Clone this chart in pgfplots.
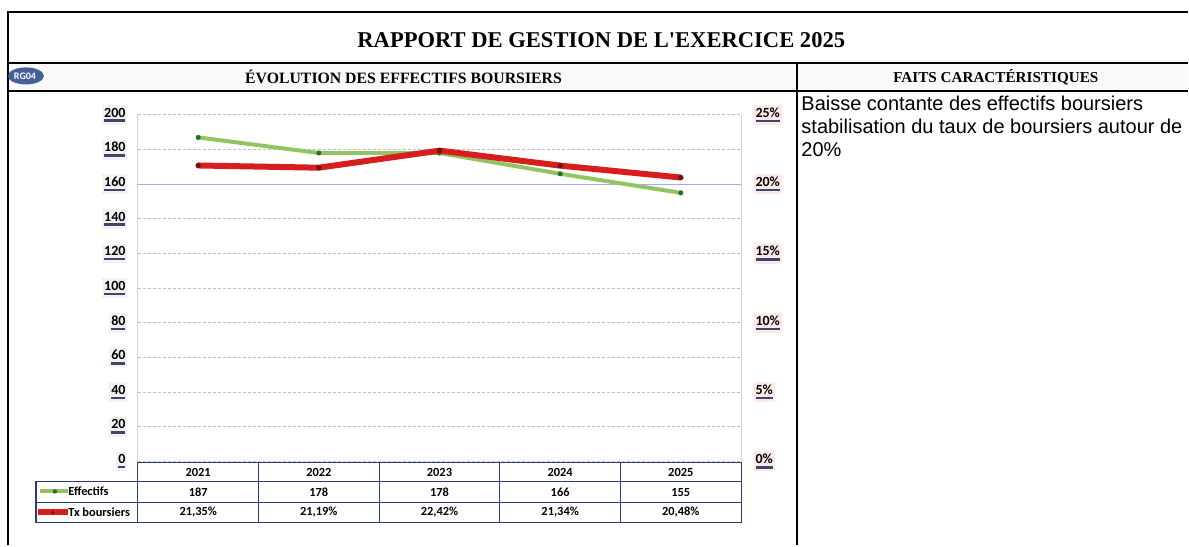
\documentclass[border=0pt]{standalone}
\usepackage{pgfplots}
\pgfplotsset{compat=1.18}
\usepackage{fontspec}
\setmainfont{Liberation Serif}
\newfontfamily\calfont{Carlito}
\newfontfamily\arialfont{Liberation Sans}
\definecolor{effgreen}{RGB}{146,196,96}
\definecolor{effdot}{RGB}{40,110,40}
\definecolor{txred}{RGB}{214,30,30}
\definecolor{txdot}{RGB}{110,20,20}
\definecolor{tabblue}{RGB}{40,60,120}
\definecolor{badge}{RGB}{70,95,150}
\definecolor{shade}{RGB}{60,70,110}
% tick label with a dark bar under it, as in the scanned Excel chart
\newcommand\tickbar[1]{\setbox0\hbox{#1}\copy0\llap{\textcolor{shade}{\rule[-2.4pt]{\wd0}{1.2pt}}}}
\pgfplotsset{
  commonax/.style={
    width=302pt, height=173.5pt, scale only axis,
    xmin=0.5, xmax=5.5, hide x axis,
    major tick length=0pt,
    axis line style={gray!35, line width=0.4pt},
    /pgf/number format/assume math mode=true,
  },
  bevel/.style={font=\calfont\bfseries\fontsize{7}{8}\selectfont, fill=#1,
    inner xsep=1pt, inner ysep=1.4pt},
}
\begin{document}
\begin{tikzpicture}
\begin{scope}[x=0.5pt,y=-0.5pt]
\path (0,0) rectangle (1189,546);
\fill[gray!5] (9,64) rectangle (1189,90);
\draw[line width=1.4pt] (8,546) -- (8,12) -- (1189,12);
\draw[line width=1.4pt] (8,63) -- (1189,63);
\draw[line width=0.8pt] (8,91) -- (1189,91);
\draw[line width=1.2pt] (798,63) -- (798,546);
\node[font=\bfseries\fontsize{11.3}{13}\selectfont] at (602,40) {RAPPORT DE GESTION DE L\textquotesingle EXERCICE 2025};
\fill[badge] (26,76) ellipse (18 and 8.5);
\node[white, font=\calfont\bfseries\fontsize{5}{6}\selectfont] at (25,76) {RG04};
\node[font=\bfseries\fontsize{7.9}{9}\selectfont] at (404,77) {ÉVOLUTION DES EFFECTIFS BOURSIERS};
\node[font=\bfseries\fontsize{7.6}{9}\selectfont] at (997,77) {FAITS CARACTÉRISTIQUES};
\node[anchor=north west, align=left, inner sep=0pt, font=\arialfont\fontsize{10}{11.5}\selectfont] at (802,96)
  {Baisse contante des effectifs boursiers\\stabilisation du taux de boursiers autour de\\20\%};
\coordinate (ax) at (138,462);
\end{scope}

\begin{axis}[commonax, at={(ax)}, anchor=south west,
  ymin=0, ymax=200, ytick={0,20,...,200},
  axis y line*=left,
  ymajorgrids, grid style={gray!50, line width=0.4pt, dash pattern=on 1.5pt off 1pt},
  yticklabel={\tickbar{\pgfmathprintnumber{\tick}}},
  yticklabel style={bevel=gray!10, xshift=-5pt},
]
\draw[blue!35, line width=0.5pt] (axis cs:0.5,160) -- (axis cs:5.5,160);
\addplot[effgreen, line width=2pt, mark=*, mark size=1.1pt, mark options={fill=effdot, draw=effdot, line width=0.3pt}]
  coordinates {(1,187)(2,178)(3,178)(4,166)(5,155)};
\end{axis}

\begin{axis}[commonax, at={(ax)}, anchor=south west,
  ymin=0, ymax=25, ytick={0,5,...,25},
  axis y line*=right,
  yticklabel={\tickbar{\pgfmathprintnumber{\tick}\%}},
  yticklabel style={bevel=pink!35, xshift=6pt},
]
\addplot[txred, line width=3pt, mark=*, mark size=1.2pt, mark options={fill=txdot, draw=txdot, line width=0.3pt}]
  coordinates {(1,21.35)(2,21.19)(3,22.42)(4,21.34)(5,20.48)};
\end{axis}

\begin{scope}[x=0.5pt,y=-0.5pt]
\fill[white] (138,463) rectangle (742,523);
\draw[tabblue, line width=0.6pt] (138,463) rectangle (742,523);
\draw[tabblue, line width=0.6pt] (36,482) rectangle (742,523);
\draw[tabblue, line width=0.6pt] (36,503) -- (742,503);
\foreach \c in {258.8,379.6,500.4,621.2} \draw[tabblue, line width=0.6pt] (\c,463) -- (\c,523);
\foreach \yr/\e [count=\i from 0] in {2021/187,2022/178,2023/178,2024/166,2025/155} {
  \node[font=\calfont\bfseries\fontsize{6.2}{7}\selectfont] at (198.4+120.8*\i,473) {\yr};
  \node[font=\calfont\bfseries\fontsize{6.2}{7}\selectfont] at (198.4+120.8*\i,493) {\e};
}
\foreach \t [count=\i from 0] in {{21,35\%},{21,19\%},{22,42\%},{21,34\%},{20,48\%}}
  \node[font=\calfont\bfseries\fontsize{6.2}{7}\selectfont] at (198.4+120.8*\i,513) {\t};
\draw[effgreen, line width=2pt] (40,492) -- (68,492);
\fill[effdot] (55,492) circle (2.2);
\draw[txred, line width=3pt] (38,513) -- (68,513);
\fill[txdot] (53,513) circle (1.8);
\node[anchor=west, inner sep=0pt, font=\calfont\bfseries\fontsize{6.2}{7}\selectfont] at (68,492) {Effectifs};
\node[anchor=west, inner sep=0pt, font=\calfont\bfseries\fontsize{6.2}{7}\selectfont] at (68,513) {Tx boursiers};
\end{scope}
\end{tikzpicture}
\end{document}
